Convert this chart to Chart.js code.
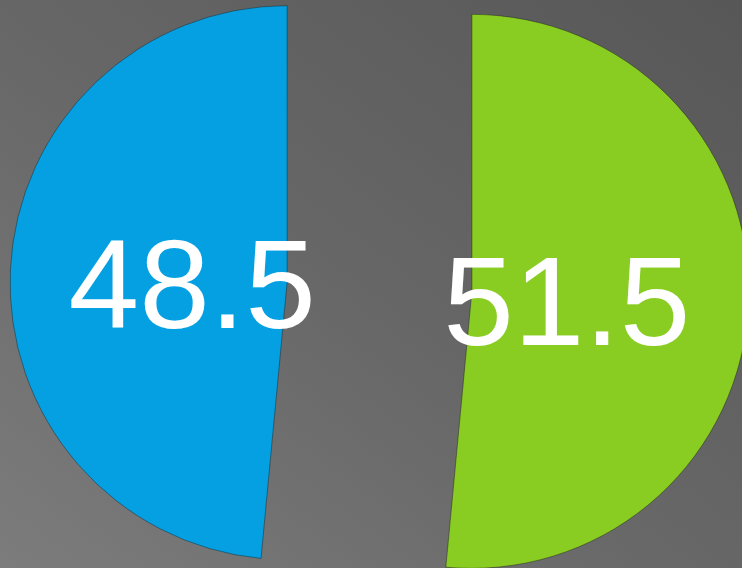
<!DOCTYPE html>
<html>
<head>
<meta charset="utf-8">
<script src="https://cdn.jsdelivr.net/npm/chart.js@4.4.1/dist/chart.umd.min.js"></script>
<style>
  html, body { margin: 0; padding: 0; width: 742px; height: 568px; overflow: hidden; }
  body { background: linear-gradient(to top right, #7c7c7c 0%, #686868 45%, #575757 100%); }
  #wrap { position: relative; width: 742px; height: 568px; }
</style>
</head>
<body>
<div id="wrap"><canvas id="c" width="742" height="568"></canvas></div>
<script>
const categories = ['Part B', 'Part A'];
const values = [51.5, 48.5];
const valueLabels = ['51.5', '48.5'];
const sliceColors = ['#89cd22', '#04a0e2'];

const EXPLODE = 92.5;
const PIE_RADIUS = 277;
const LABEL_FONT = 127;

const explodePlugin = {
  id: 'explode',
  afterDatasetUpdate(chart, args) {
    args.meta.data.forEach(arc => {
      const mid = (arc.startAngle + arc.endAngle) / 2;
      arc.x += Math.cos(mid) * EXPLODE;
      arc.y += Math.sin(mid) * EXPLODE;
    });
  }
};

const labelPlugin = {
  id: 'sliceLabels',
  afterDatasetsDraw(chart) {
    const ctx = chart.ctx;
    const meta = chart.getDatasetMeta(0);
    ctx.save();
    ctx.fillStyle = '#ffffff';
    ctx.font = LABEL_FONT + 'px "Liberation Sans", Arial, sans-serif';
    ctx.textAlign = 'center';
    ctx.textBaseline = 'alphabetic';
    meta.data.forEach((arc, i) => {
      const mid = (arc.startAngle + arc.endAngle) / 2;
      const d = arc.outerRadius * 0.343;
      const x = arc.x + Math.cos(mid) * d;
      const y = arc.y + Math.sin(mid) * d + LABEL_FONT * 0.39;
      ctx.fillText(valueLabels[i], x, y);
    });
    ctx.restore();
  }
};

new Chart(document.getElementById('c'), {
  type: 'pie',
  data: {
    labels: categories,
    datasets: [{
      data: values,
      backgroundColor: sliceColors,
      borderColor: 'rgba(30,30,30,0.45)',
      borderWidth: 1
    }]
  },
  options: {
    responsive: false,
    animation: false,
    radius: PIE_RADIUS,
    layout: { padding: { left: 17, right: 0, top: 6, bottom: 0 } },
    plugins: {
      legend: { display: false },
      tooltip: { enabled: false }
    }
  },
  plugins: [explodePlugin, labelPlugin]
});
</script>
</body>
</html>
